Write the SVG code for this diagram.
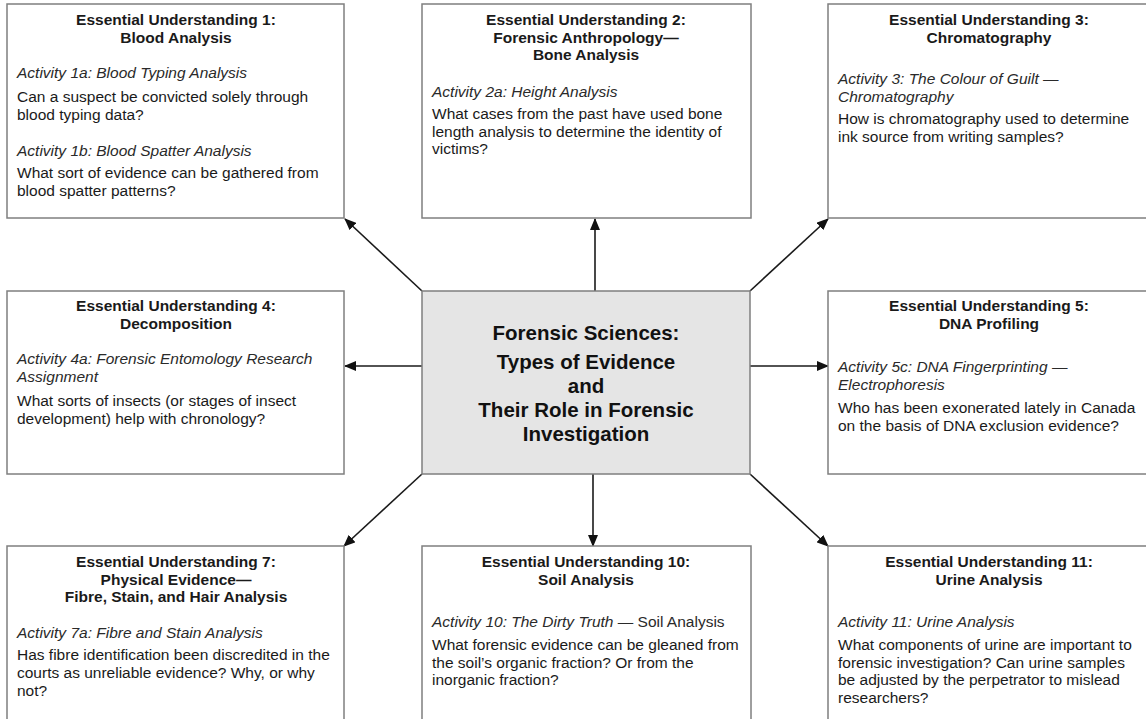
<svg xmlns="http://www.w3.org/2000/svg" width="1146" height="719" viewBox="0 0 1146 719">
  <style>
    .box { fill: #ffffff; stroke: #7f7f7f; stroke-width: 1.5; }
    .hub { fill: #e5e5e5; stroke: #7f7f7f; stroke-width: 1.5; }
    text { font-family: "Liberation Sans", Arial, sans-serif; font-size: 15.5px; fill: #1a1a1a; }
    .title { font-weight: bold; text-anchor: middle; }
    .act { font-style: italic; fill: #2a2a2a; }
    .dash { font-style: normal; }
    .hubtext { font-weight: bold; font-size: 20.5px; text-anchor: middle; fill: #111111; }
    .link { stroke: #1a1a1a; stroke-width: 1.6; fill: none; marker-end: url(#arrow); }
  </style>
  <defs>
    <marker id="arrow" markerUnits="userSpaceOnUse" markerWidth="12" markerHeight="10" refX="11" refY="5" orient="auto">
      <path d="M0,0 L12,5 L0,10 Z" fill="#111111"/>
    </marker>
  </defs>

  <!-- connectors from the central hub -->
  <g id="connectors">
    <line class="link" x1="422" y1="291" x2="345" y2="219"/>
    <line class="link" x1="595" y1="291" x2="595" y2="219"/>
    <line class="link" x1="750" y1="291" x2="828" y2="219"/>
    <line class="link" x1="422" y1="366" x2="345" y2="366"/>
    <line class="link" x1="750" y1="366" x2="828" y2="366"/>
    <line class="link" x1="422" y1="474" x2="344" y2="546"/>
    <line class="link" x1="593" y1="474" x2="593" y2="546"/>
    <line class="link" x1="750" y1="474" x2="828" y2="546"/>
  </g>

  <g id="hub">
    <rect class="hub" x="422" y="291" width="328" height="183"/>
    <text class="hubtext" x="586" y="340">Forensic Sciences:</text>
    <text class="hubtext" x="586" y="369">Types of Evidence</text>
    <text class="hubtext" x="586" y="393">and</text>
    <text class="hubtext" x="586" y="417">Their Role in Forensic</text>
    <text class="hubtext" x="586" y="441">Investigation</text>
  </g>

  <g id="eu1">
    <rect class="box" x="7" y="4" width="337" height="214"/>
    <text class="title" x="176" y="25">Essential Understanding 1:</text>
    <text class="title" x="176" y="43">Blood Analysis</text>
    <text class="act" x="17" y="78">Activity 1a: Blood Typing Analysis</text>
    <text x="17" y="102">Can a suspect be convicted solely through</text>
    <text x="17" y="119.5">blood typing data?</text>
    <text class="act" x="17" y="156">Activity 1b: Blood Spatter Analysis</text>
    <text x="17" y="178">What sort of evidence can be gathered from</text>
    <text x="17" y="195.5">blood spatter patterns?</text>
  </g>

  <g id="eu2">
    <rect class="box" x="422" y="4" width="329" height="214"/>
    <text class="title" x="586" y="25">Essential Understanding 2:</text>
    <text class="title" x="586" y="42.5">Forensic Anthropology—</text>
    <text class="title" x="586" y="60">Bone Analysis</text>
    <text class="act" x="432" y="97">Activity 2a: Height Analysis</text>
    <text x="432" y="119">What cases from the past have used bone</text>
    <text x="432" y="136.5">length analysis to determine the identity of</text>
    <text x="432" y="154">victims?</text>
  </g>

  <g id="eu3">
    <rect class="box" x="828" y="4" width="330" height="214"/>
    <text class="title" x="989" y="25">Essential Understanding 3:</text>
    <text class="title" x="989" y="43">Chromatography</text>
    <text class="act" x="838" y="84">Activity 3: The Colour of Guilt <tspan class="dash">—</tspan></text>
    <text class="act" x="838" y="102">Chromatography</text>
    <text x="838" y="124">How is chromatography used to determine</text>
    <text x="838" y="141.5">ink source from writing samples?</text>
  </g>

  <g id="eu4">
    <rect class="box" x="7" y="291" width="337" height="183"/>
    <text class="title" x="176" y="311">Essential Understanding 4:</text>
    <text class="title" x="176" y="329">Decomposition</text>
    <text class="act" x="17" y="364">Activity 4a: Forensic Entomology Research</text>
    <text class="act" x="17" y="382">Assignment</text>
    <text x="17" y="406">What sorts of insects (or stages of insect</text>
    <text x="17" y="423.5">development) help with chronology?</text>
  </g>

  <g id="eu5">
    <rect class="box" x="828" y="291" width="330" height="183"/>
    <text class="title" x="989" y="311">Essential Understanding 5:</text>
    <text class="title" x="989" y="329">DNA Profiling</text>
    <text class="act" x="838" y="372">Activity 5c: DNA Fingerprinting <tspan class="dash">—</tspan></text>
    <text class="act" x="838" y="390">Electrophoresis</text>
    <text x="838" y="413">Who has been exonerated lately in Canada</text>
    <text x="838" y="430.5">on the basis of DNA exclusion evidence?</text>
  </g>

  <g id="eu7">
    <rect class="box" x="7" y="546" width="337" height="180"/>
    <text class="title" x="176" y="567">Essential Understanding 7:</text>
    <text class="title" x="176" y="584.5">Physical Evidence—</text>
    <text class="title" x="176" y="602">Fibre, Stain, and Hair Analysis</text>
    <text class="act" x="17" y="638">Activity 7a: Fibre and Stain Analysis</text>
    <text x="17" y="660">Has fibre identification been discredited in the</text>
    <text x="17" y="678">courts as unreliable evidence? Why, or why</text>
    <text x="17" y="696">not?</text>
  </g>

  <g id="eu10">
    <rect class="box" x="422" y="546" width="329" height="180"/>
    <text class="title" x="586" y="567">Essential Understanding 10:</text>
    <text class="title" x="586" y="584.5">Soil Analysis</text>
    <text class="act" x="432" y="627">Activity 10: The Dirty Truth <tspan class="dash">— Soil Analysis</tspan></text>
    <text x="432" y="650">What forensic evidence can be gleaned from</text>
    <text x="432" y="667.5">the soil’s organic fraction? Or from the</text>
    <text x="432" y="685">inorganic fraction?</text>
  </g>

  <g id="eu11">
    <rect class="box" x="828" y="546" width="330" height="180"/>
    <text class="title" x="989" y="567">Essential Understanding 11:</text>
    <text class="title" x="989" y="584.5">Urine Analysis</text>
    <text class="act" x="838" y="627">Activity 11: Urine Analysis</text>
    <text x="838" y="650">What components of urine are important to</text>
    <text x="838" y="667.5">forensic investigation? Can urine samples</text>
    <text x="838" y="685">be adjusted by the perpetrator to mislead</text>
    <text x="838" y="702.5">researchers?</text>
  </g>
</svg>
